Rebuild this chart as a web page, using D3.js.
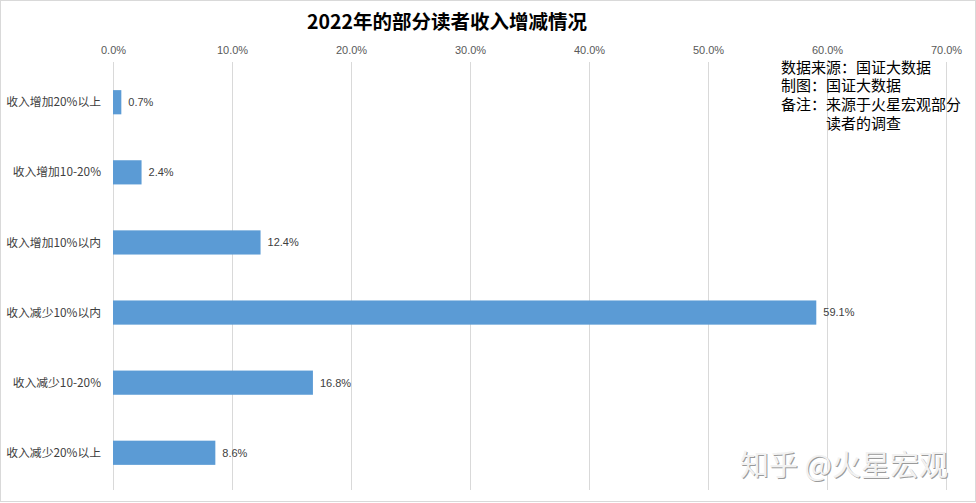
<!DOCTYPE html>
<html><head><meta charset="utf-8">
<script src="https://cdn.jsdelivr.net/npm/d3@7"></script>
<style>body{margin:0;background:#fff;}svg{display:block;font-family:"Noto Sans CJK SC","Noto Sans",sans-serif;}</style>
</head><body>
<svg id="c" width="976" height="503"></svg>
<script>
const categories = ["收入增加20%以上","收入增加10-20%","收入增加10%以内","收入减少10%以内","收入减少10-20%","收入减少20%以上"];
const values = [0.7, 2.4, 12.4, 59.1, 16.8, 8.6];
const tickValues = [0,10,20,30,40,50,60,70];
const title = "2022年的部分读者收入增减情况";
const noteLines = ["数据来源：国证大数据","制图：国证大数据","备注：来源于火星宏观部分","读者的调查"];

const svg = d3.select("#c");
svg.append("rect").attr("x",0.5).attr("y",0.5).attr("width",975).attr("height",501)
  .attr("fill","#fff").attr("stroke","#d9d9d9");

const x = d3.scaleLinear().domain([0,70]).range([113,946]);
const y = d3.scaleBand().domain(categories).range([67,488]).paddingInner(0.655).paddingOuter(0.33);

// gridlines
svg.append("g").selectAll("line").data(tickValues).join("line")
  .attr("x1",d=>x(d)).attr("x2",d=>x(d)).attr("y1",62).attr("y2",490)
  .attr("stroke","#d9d9d9").attr("stroke-width",1).attr("shape-rendering","crispEdges");

// top axis
const axis = d3.axisTop(x).tickValues(tickValues).tickFormat(d=>d.toFixed(1)+"%").tickSize(0);
const ag = svg.append("g").attr("transform","translate(0,57)").call(axis);
ag.select(".domain").remove();
ag.selectAll("text").attr("fill","#595959").attr("font-size",11).attr("font-family","Liberation Sans, Noto Sans, sans-serif");

// bars
svg.append("g").selectAll("rect").data(values).join("rect")
  .attr("x",x(0)).attr("y",(d,i)=>y(categories[i]))
  .attr("width",d=>x(d)-x(0)).attr("height",y.bandwidth())
  .attr("fill","#5b9bd5");

// value labels
svg.append("g").selectAll("text").data(values).join("text")
  .attr("x",d=>x(d)+7).attr("y",(d,i)=>y(categories[i])+y.bandwidth()/2)
  .attr("dy","0.35em").attr("font-size",11).attr("fill","#404040")
  .attr("font-family","Liberation Sans, Noto Sans, sans-serif")
  .text(d=>d.toFixed(1)+"%");

// category labels
svg.append("g").selectAll("text").data(categories).join("text")
  .attr("x",101).attr("y",d=>y(d)+y.bandwidth()/2).attr("dy","0.35em")
  .attr("text-anchor","end").attr("font-size",11.8).attr("fill","#404040")
  .text(d=>d);

// title
svg.append("text").attr("x",447).attr("y",29).attr("text-anchor","middle")
  .attr("font-size",19.5).attr("font-weight","bold").attr("fill","#000").text(title);

// notes
const nx = [781,781,781,826];
const ny = [73,91,110,129];
svg.append("g").selectAll("text").data(noteLines).join("text")
  .attr("x",(d,i)=>nx[i]).attr("y",(d,i)=>ny[i])
  .attr("font-size",15).attr("fill","#000").text(d=>d);

// watermark
const wm = svg.append("g");
wm.append("text").attr("x",741).attr("y",477).attr("font-size",29).attr("fill","#9a9a9a").text("知乎 @火星宏观");
wm.append("text").attr("x",740).attr("y",476).attr("font-size",29).attr("fill","#f2f2f2").text("知乎 @火星宏观");
</script>
</body></html>
